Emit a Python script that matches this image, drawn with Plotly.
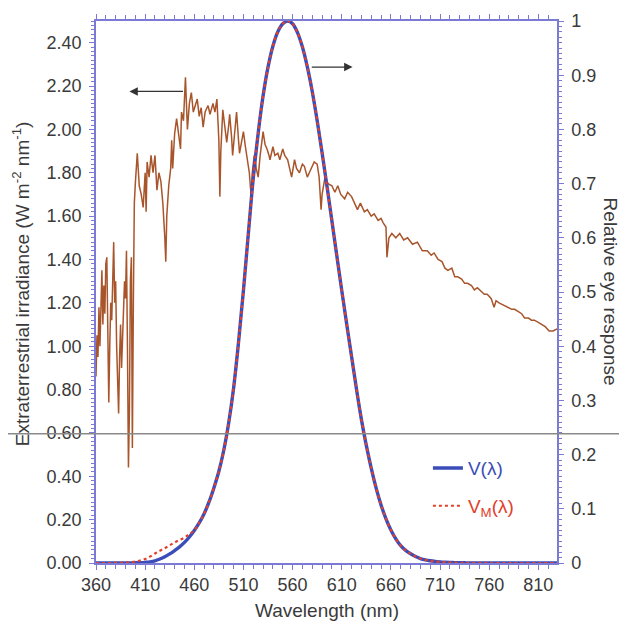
import plotly.graph_objects as go

# extraterrestrial solar spectrum (W m-2 nm-1)
sun_wl = [360, 361, 362, 363, 364, 365, 366, 367, 368, 369, 370, 371, 372, 373, 374, 375, 376, 377, 378, 379,
          380, 381, 382, 383, 384, 385, 386, 387, 388, 389, 390, 391, 392, 393, 394, 395, 396, 397, 398, 399,
          400, 402, 404, 406, 408, 410, 411, 412, 414, 416, 418, 420, 422, 424, 426, 428, 430, 431, 432, 434,
          436, 437, 438, 440, 442, 444, 446, 447, 449, 451, 453, 455, 457, 459, 461, 463, 465, 467, 469, 471,
          474, 476, 479, 481, 483, 485, 486, 487, 489, 491, 493, 495, 496, 498, 499, 501, 503, 505, 506, 508,
          510, 512, 514, 516, 517, 518, 519, 521, 523, 525, 527, 530, 532, 534, 536, 537, 540, 542, 545, 547,
          550, 552, 555, 557, 559, 562, 564, 567, 570, 572, 575, 577, 580, 582, 585, 587, 589, 590, 593, 596,
          600, 603, 606, 609, 613, 616, 620, 623, 626, 629, 633, 636, 640, 643, 647, 650, 652, 655, 656, 658,
          661, 665, 669, 673, 677, 682, 687, 692, 697, 701, 704, 708, 712, 715, 718, 722, 725, 728, 732, 735,
          738, 742, 745, 748, 752, 755, 758, 762, 765, 767, 770, 774, 779, 783, 786, 789, 793, 796, 800, 803,
          806, 810, 814, 817, 821, 825, 829]
sun_irr = [0.86, 1.05, 0.95, 1.18, 1.00, 1.25, 1.35, 1.10, 1.28, 1.15, 1.38, 1.41, 1.05, 0.74, 1.00, 1.20, 1.12, 1.35, 1.48, 1.20,
           1.30, 1.00, 0.85, 0.69, 0.95, 1.10, 0.90, 1.05, 1.20, 1.30, 1.22, 1.44, 1.00, 0.44, 0.70, 1.30, 1.41, 0.53, 1.20, 1.66,
           1.75, 1.89, 1.74, 1.70, 1.64, 1.80, 1.62, 1.85, 1.78, 1.88, 1.80, 1.88, 1.72, 1.80, 1.76, 1.66, 1.50, 1.39, 1.60, 1.74,
           1.82, 1.95, 1.82, 1.98, 2.05, 1.98, 1.91, 2.08, 2.04, 2.24, 2.00, 2.12, 2.17, 2.08, 2.11, 2.14, 2.06, 2.10, 2.01, 2.08,
           2.11, 2.07, 2.12, 2.08, 2.14, 1.95, 1.69, 1.90, 2.09, 2.00, 1.94, 2.02, 2.07, 1.96, 1.88, 1.98, 2.08, 1.95, 1.89, 1.94,
           1.99, 1.92, 1.86, 1.80, 1.74, 1.69, 1.80, 1.88, 1.82, 1.78, 1.88, 1.99, 1.93, 1.91, 1.88, 1.86, 1.92, 1.88, 1.89, 1.86,
           1.91, 1.88, 1.86, 1.82, 1.78, 1.86, 1.82, 1.80, 1.84, 1.83, 1.78, 1.80, 1.83, 1.85, 1.84, 1.78, 1.63, 1.70, 1.78, 1.75,
           1.74, 1.71, 1.74, 1.70, 1.68, 1.71, 1.69, 1.66, 1.63, 1.66, 1.62, 1.63, 1.60, 1.61, 1.58, 1.59, 1.57, 1.55, 1.41, 1.50,
           1.52, 1.50, 1.52, 1.49, 1.50, 1.47, 1.48, 1.44, 1.44, 1.42, 1.43, 1.40, 1.39, 1.36, 1.35, 1.36, 1.32, 1.32, 1.31, 1.29,
           1.29, 1.28, 1.26, 1.27, 1.25, 1.24, 1.24, 1.22, 1.18, 1.21, 1.20, 1.19, 1.18, 1.17, 1.17, 1.16, 1.15, 1.13, 1.13, 1.12,
           1.12, 1.11, 1.10, 1.09, 1.07, 1.07, 1.08]

# photopic eye response V(lambda) and the modified V_M(lambda)
eye_wl = [360, 365, 370, 375, 380, 385, 390, 395, 400, 405, 410, 415, 420, 425, 430, 435, 440, 445, 450, 455,
          460, 465, 470, 475, 480, 485, 490, 495, 500, 505, 510, 515, 520, 525, 530, 535, 540, 545, 550, 555,
          560, 565, 570, 575, 580, 585, 590, 595, 600, 605, 610, 615, 620, 625, 630, 635, 640, 645, 650, 655,
          660, 665, 670, 675, 680, 685, 690, 695, 700, 705, 710, 715, 720, 725, 730, 735, 740, 750, 760, 780,
          800, 829]
v_lambda = [0.0000039, 0.000007, 0.0000122, 0.000022, 0.000039, 0.000064, 0.00012, 0.000217, 0.000396, 0.00064,
            0.00121, 0.00218, 0.004, 0.0073, 0.0116, 0.01684, 0.023, 0.0298, 0.038, 0.048,
            0.06, 0.0739, 0.09098, 0.1126, 0.13902, 0.1693, 0.20802, 0.2586, 0.323, 0.4073,
            0.503, 0.6082, 0.71, 0.7932, 0.862, 0.91485, 0.954, 0.9803, 0.99495, 1.0,
            0.995, 0.9786, 0.952, 0.9154, 0.87, 0.8163, 0.757, 0.6949, 0.631, 0.5668,
            0.503, 0.4412, 0.381, 0.321, 0.265, 0.217, 0.175, 0.1382, 0.107, 0.0816,
            0.061, 0.04458, 0.032, 0.0232, 0.017, 0.01192, 0.00821, 0.005723, 0.004102, 0.002929,
            0.002091, 0.001484, 0.001047, 0.00074, 0.00052, 0.000361, 0.000249, 0.00012, 0.00006, 0.000015,
            0.000004, 0.0000005]
vm_lambda = [0.0000039, 0.000007, 0.0000122, 0.000022, 0.0002, 0.0004, 0.0008, 0.00155, 0.0028, 0.00466,
             0.0074, 0.0118, 0.0175, 0.0227, 0.0273, 0.0326, 0.0379, 0.0424, 0.0468, 0.0535,
             0.06, 0.0739, 0.09098, 0.1126, 0.13902, 0.1693, 0.20802, 0.2586, 0.323, 0.4073,
             0.503, 0.6082, 0.71, 0.7932, 0.862, 0.91485, 0.954, 0.9803, 0.99495, 1.0,
             0.995, 0.9786, 0.952, 0.9154, 0.87, 0.8163, 0.757, 0.6949, 0.631, 0.5668,
             0.503, 0.4412, 0.381, 0.321, 0.265, 0.217, 0.175, 0.1382, 0.107, 0.0816,
             0.061, 0.04458, 0.032, 0.0232, 0.017, 0.01192, 0.00821, 0.005723, 0.004102, 0.002929,
             0.002091, 0.001484, 0.001047, 0.00074, 0.00052, 0.000361, 0.000249, 0.00012, 0.00006, 0.000015,
             0.000004, 0.0000005]

x_ticks = [360, 410, 460, 510, 560, 610, 660, 710, 760, 810]

FONT = "Liberation Sans, Arial, sans-serif"
AXIS = "#7b7bd6"
TXT = "#3a3a3a"

fig = go.Figure()

fig.add_trace(go.Scatter(x=sun_wl, y=sun_irr, mode="lines",
                         line=dict(color="#a8552b", width=1.5), showlegend=False))

fig.add_trace(go.Scatter(x=eye_wl, y=v_lambda, mode="lines", yaxis="y2",
                         line=dict(color="#3b4db9", width=3.4, shape="spline"),
                         name="<span style='color:#3b4db9'>V(λ)</span>", legendgroup="v"))
fig.add_trace(go.Scatter(x=eye_wl, y=vm_lambda, mode="lines", yaxis="y2",
                         line=dict(color="#e2402a", width=2.2, dash="3px,3px", shape="spline"),
                         name="<span style='color:#e2402a'>V<sub>M</sub>(λ)</span>", legendgroup="vm"))

tick_common = dict(showline=True, linecolor=AXIS, linewidth=1.5, ticks="outside",
                   tickcolor=AXIS, ticklen=5, showgrid=False, zeroline=False, automargin=False,
                   tickfont=dict(family=FONT, size=18, color=TXT))

# page body adds 8px on the left/top, so the figure is 8px smaller and shifted
fig.update_layout(
    width=619, height=614,
    margin=dict(l=88, r=70, t=13, b=59),
    paper_bgcolor="white", plot_bgcolor="white",
    font=dict(family=FONT, size=18, color=TXT),
    xaxis=dict(range=[360, 829], tickvals=x_ticks, mirror="ticks",
               minor=dict(dtick=10, ticklen=4, tickcolor=AXIS, ticks="outside"),
               **tick_common),
    yaxis=dict(range=[0, 2.5], dtick=0.2, tickformat=".2f", ticklabelstandoff=4,
               minor=dict(dtick=0.02, ticklen=3, tickcolor=AXIS, ticks="outside"),
               **tick_common),
    yaxis2=dict(range=[0, 1], dtick=0.1, overlaying="y", side="right",
                tickformat="~g", ticklabelstandoff=4,
                minor=dict(dtick=0.01, ticklen=3, tickcolor=AXIS, ticks="outside"),
                **tick_common),
    legend=dict(x=0.72, y=0.21, xanchor="left", yanchor="top",
                bgcolor="rgba(0,0,0,0)", tracegroupgap=10,
                font=dict(family=FONT, size=19)),
    showlegend=True,
)

# axis titles
fig.add_annotation(text="Wavelength (nm)", xref="paper", yref="paper", x=0.5, y=-0.087,
                   xanchor="center", yanchor="middle",
                   showarrow=False, font=dict(size=19, color=TXT))
fig.add_annotation(text="Extraterrestrial irradiance (W m<sup>-2</sup> nm<sup>-1</sup>)",
                   xref="paper", yref="paper", x=-0.162, y=0.515, textangle=-90,
                   xanchor="center", yanchor="middle",
                   showarrow=False, font=dict(size=19, color=TXT))
fig.add_annotation(text="Relative eye response", xref="paper", yref="paper", x=1.118, y=0.5,
                   xanchor="center", yanchor="middle",
                   textangle=90, showarrow=False, font=dict(size=19, color=TXT))

# arrows pointing at the axis each curve belongs to
fig.add_annotation(x=394, y=2.175, ax=450, ay=2.175, xref="x", yref="y", axref="x", ayref="y",
                   text="", showarrow=True, arrowhead=2, arrowsize=1.4, arrowwidth=1.2, arrowcolor="#333")
fig.add_annotation(x=621, y=0.915, ax=578, ay=0.915, xref="x", yref="y2", axref="x", ayref="y2",
                   text="", showarrow=True, arrowhead=2, arrowsize=1.4, arrowwidth=1.2, arrowcolor="#333")

# grey rule across the figure
fig.add_shape(type="line", xref="paper", yref="y", x0=-0.21, x1=1.16, y0=0.596, y1=0.596,
              line=dict(color="#8a8a8a", width=1.5), layer="above")

fig.write_html("out.html")
